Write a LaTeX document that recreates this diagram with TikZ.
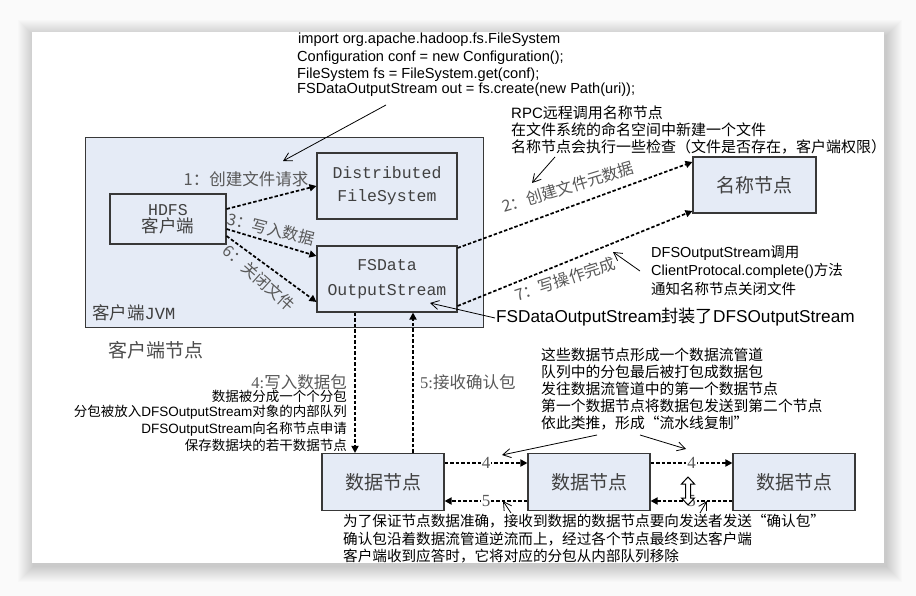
\documentclass[tikz,border=0pt]{standalone}
\usepackage{fontspec}
\setmainfont{Liberation Sans}
\newfontfamily\cjk{Noto Sans CJK SC}
\newfontfamily\mono{Liberation Mono}
\newfontfamily\serifdigits{Liberation Serif}
\usetikzlibrary{arrows.meta}
\definecolor{boxfill}{RGB}{229,235,246}
\definecolor{labelgray}{RGB}{88,88,88}
\definecolor{pagebg}{RGB}{250,250,250}
\newcommand{\fs}[2]{\fontsize{#1}{#2}\selectfont}

\begin{document}
\begin{tikzpicture}[x=1pt,y=-1pt,
  box/.style={draw=black!78, line width=1.1pt, fill=boxfill, inner sep=0pt,
    align=center, text=black!75},
  flow/.style={line width=1.7pt, dash pattern=on 3.5pt off 2pt,
    -{Triangle[length=7pt,width=7pt]}},
  pointer/.style={line width=0.8pt, -{Straight Barb[length=8pt,width=9pt]}},
  elabel/.style={text=labelgray, font=\cjk\fs{16}{18}, inner sep=0pt},
  seqnum/.style={fill=white, inner sep=1pt, text=labelgray, font=\serifdigits\fs{17}{17}},
  txt/.style={inner sep=0pt, anchor=west},
  txtr/.style={inner sep=0pt, anchor=east},
]
\useasboundingbox (0,0) rectangle (916,596);

% page with soft drop shadow
\fill[pagebg] (0,0) rectangle (916,596);
\foreach \i in {1,...,16}
  \fill[black, opacity=0.011] (34-\i, 36-\i) rectangle (886+\i, 566+\i);
\fill[white] (32,32) rectangle (884,563);

% client JVM container
\node[box, anchor=north west, minimum width=398pt, minimum height=190pt] (jvm) at (85,137) {};
\node[txt, text=black!75] (jvmlabel) at (92,313) {{\cjk\fs{17.5}{20}客户端}{\mono\fs{17}{20}JVM}};

% boxes
\node[box, minimum width=116pt, minimum height=50pt] (client) at (168,219)
  {{\mono\fs{16.5}{22}HDFS}\\[1pt]{\cjk\fs{17.5}{22}客户端}};
\node[box, minimum width=140pt, minimum height=66pt, font=\mono\fs{16.5}{23}] (dfs) at (387,186)
  {Distributed\\FileSystem};
\node[box, minimum width=140pt, minimum height=66pt, font=\mono\fs{16.5}{25}] (fsdata) at (387,279)
  {FSData\\OutputStream};
\node[box, minimum width=123pt, minimum height=56pt, font=\cjk\fs{19}{22}] (name) at (754.5,185) {名称节点};
\node[box, minimum width=122pt, minimum height=57pt, font=\cjk\fs{19}{22}] (dn1) at (383,482) {数据节点};
\node[box, minimum width=122pt, minimum height=57pt, font=\cjk\fs{19}{22}] (dn2) at (589,482) {数据节点};
\node[box, minimum width=122pt, minimum height=57pt, font=\cjk\fs{19}{22}] (dn3) at (794,482) {数据节点};

\node[txt, text=black!70, font=\cjk\fs{19}{22}] (clientnode) at (108,350) {客户端节点};

% numbered flows
\draw[flow] ([yshift=10pt]client.east) -- (dfs.west);
\draw[flow] ([yshift=-10pt]client.east) -- ([yshift=23pt]fsdata.west);
\draw[flow] ([yshift=-17pt]client.east) -- ([yshift=-23pt]fsdata.west);
\draw[flow] ([yshift=31pt]fsdata.east) -- ([yshift=23pt]name.west);
\draw[flow] ([yshift=-27pt]fsdata.east) -- ([yshift=-26pt]name.west);
\draw[flow] ([xshift=-28pt]dn1.north |- fsdata.south) -- ([xshift=-28pt]dn1.north);
\draw[flow] ([xshift=30pt]dn1.north) -- ([xshift=30pt]dn1.north |- fsdata.south);
\draw[flow] ([yshift=19pt]dn1.east) -- node[seqnum] (f4a) {4} ([yshift=19pt]dn2.west);
\draw[flow] ([yshift=19pt]dn2.east) -- node[seqnum] (f4b) {4} ([yshift=19pt]dn3.west);
\draw[flow] ([yshift=-19pt]dn2.west) -- node[seqnum] (f5a) {5} ([yshift=-19pt]dn1.east);
\draw[flow] ([yshift=-19pt]dn3.west) -- node[seqnum] (f5b) {5} ([yshift=-19pt]dn2.east);

% flow labels
\node[elabel, font=\cjk\fs{16.5}{18}] (l1) at (246,179) {1：创建文件请求};
\node[elabel, rotate=-14] (l3) at (271,229) {3：写入数据};
\node[elabel, rotate=-42] (l6) at (259,278) {6：关闭文件};
\node[elabel, rotate=17] (l2) at (568,187) {2：创建文件元数据};
\node[elabel, rotate=18] (l7) at (565,279) {7：写操作完成};
\node[elabel, anchor=east, font=\fs{16.5}{18}] (l4) at (347,382) {{\serifdigits 4:}{\cjk 写入数据包}};
\node[elabel, anchor=west, font=\fs{16.5}{18}] (l5) at (420,382) {{\serifdigits 5:}{\cjk 接收确认包}};

% code snippet
\node[txt, font=\fs{14.6}{16}] (code1) at (298,40) {import org.apache.hadoop.fs.FileSystem};
\node[txt, font=\fs{14.6}{16}] (code2) at (297,58) {Configuration conf = new Configuration();};
\node[txt, font=\fs{14.6}{16}] (code3) at (297,75) {FileSystem fs = FileSystem.get(conf);};
\node[txt, font=\fs{14.6}{16}] (code4) at (297,90) {FSDataOutputStream out = fs.create(new Path(uri));};

% RPC note
\node[txt, font=\fs{15}{17}] (rpc1) at (511,113) {RPC{\cjk 远程调用名称节点}};
\node[txt, font=\cjk\fs{15}{17}] (rpc2) at (511,130) {在文件系统的命名空间中新建一个文件};
\node[txt, font=\cjk\fs{15}{17}] (rpc3) at (511,147) {名称节点会执行一些检查（文件是否存在，客户端权限）};

% complete() note
\node[txt, font=\fs{14.5}{17}] (cmp1) at (651,253) {DFSOutputStream{\cjk 调用}};
\node[txt, font=\fs{14.5}{17}] (cmp2) at (651,271) {ClientProtocal.complete(){\cjk 方法}};
\node[txt, font=\cjk\fs{14.5}{17}] (cmp3) at (651,289) {通知名称节点关闭文件};

\node[txt, font=\fs{17.2}{18}] (wrap) at (496,317) {FSDataOutputStream{\cjk 封装了}DFSOutputStream};

% packet note
\node[txtr, font=\cjk\fs{13.5}{16}] (pk1) at (347,396) {数据被分成一个个分包};
\node[txtr, font=\fs{13.5}{16}] (pk2) at (347,412) {{\cjk 分包被放入}DFSOutputStream{\cjk 对象的内部队列}};
\node[txtr, font=\fs{13.5}{16}] (pk3) at (347,429) {DFSOutputStream{\cjk 向名称节点申请}};
\node[txtr, font=\cjk\fs{13.5}{16}] (pk4) at (347,445) {保存数据块的若干数据节点};

% pipeline note
\node[txt, font=\cjk\fs{14.8}{17}] (pp1) at (541,355) {这些数据节点形成一个数据流管道};
\node[txt, font=\cjk\fs{14.8}{17}] (pp2) at (541,372) {队列中的分包最后被打包成数据包};
\node[txt, font=\cjk\fs{14.8}{17}] (pp3) at (541,389) {发往数据流管道中的第一个数据节点};
\node[txt, font=\cjk\fs{14.8}{17}] (pp4) at (541,406) {第一个数据节点将数据包发送到第二个节点};
\node[txt, font=\cjk\fs{14.8}{17}] (pp5) at (541,423) {依此类推，形成“流水线复制”};

% acknowledgement note
\node[txt, font=\cjk\fs{14.6}{17}] (ack1) at (343,521) {为了保证节点数据准确，接收到数据的数据节点要向发送者发送“确认包”};
\node[txt, font=\cjk\fs{14.6}{17}] (ack2) at (343,539) {确认包沿着数据流管道逆流而上，经过各个节点最终到达客户端};
\node[txt, font=\cjk\fs{14.6}{17}] (ack3) at (343,556) {客户端收到应答时，它将对应的分包从内部队列移除};

% pointers from notes
\coordinate (c1s) at (386,105);  \coordinate (c1e) at (283,161);
\coordinate (c2s) at (555,157);  \coordinate (c2e) at (532,183);
\coordinate (c3s) at (640,271);  \coordinate (c3e) at (613,252);
\coordinate (c4s) at (495,318);  \coordinate (c4e) at (430,303);
\coordinate (c5s) at (597,435);  \coordinate (c5e) at (502,455);
\coordinate (c6s) at (640,435);  \coordinate (c6e) at (686,449);
\coordinate (c7s) at (511,513);  \coordinate (c7e) at (503,501);
\coordinate (c8s) at (700,513);  \coordinate (c8e) at (707,501);
\foreach \a in {1,...,8} \draw[pointer] (c\a s) -- (c\a e);

% resize cursor
\draw[fill=white, line width=1pt, line join=miter]
  (688,477) -- (694.5,484) -- (690.5,484) -- (690.5,498) -- (694.5,498) -- (688,505)
  -- (681.5,498) -- (685.5,498) -- (685.5,484) -- (681.5,484) -- cycle;
\end{tikzpicture}
\end{document}
